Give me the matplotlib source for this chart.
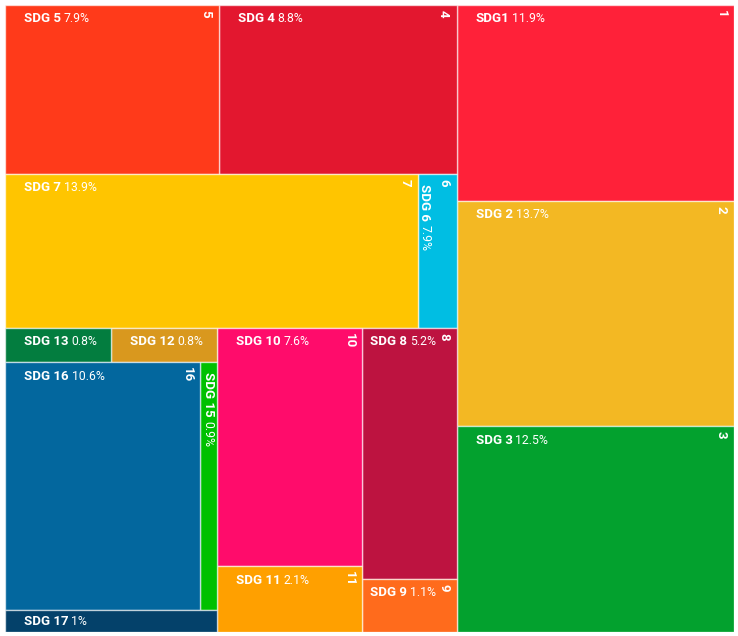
import matplotlib.pyplot as plt
from matplotlib.patches import Rectangle

plt.rcParams['font.family'] = ['Roboto', 'DejaVu Sans']

# goals shown (no SDG 14 in the data)
goals = [1, 2, 3, 4, 5, 6, 7, 8, 9, 10, 11, 12, 13, 15, 16, 17]
names = ["SDG1", "SDG 2", "SDG 3", "SDG 4", "SDG 5", "SDG 6", "SDG 7", "SDG 8",
         "SDG 9", "SDG 10", "SDG 11", "SDG 12", "SDG 13", "SDG 15", "SDG 16", "SDG 17"]
# percentages as printed in the labels
shares = [11.9, 13.7, 12.5, 8.8, 7.9, 7.9, 13.9, 5.2, 1.1, 7.6, 2.1, 0.8, 0.8, 0.9, 10.6, 1]
# cell weights (SDG 6 cell is much smaller than its label says)
sizes = [11.9, 13.7, 12.5, 8.8, 7.9, 1.3, 13.9, 5.2, 1.1, 7.6, 2.1, 0.8, 0.8, 0.9, 10.6, 1.0]
colors = ["#FF2139", "#F3B823", "#03A12E", "#E3172F", "#FF3A1A", "#00BEE3",
          "#FFC500", "#BD1340", "#FF6B1C", "#FF0C6B", "#FFA000", "#D9981E",
          "#037D3F", "#00C000", "#03679E", "#04416A"]

# how the cells are grouped; columns and rows alternate with depth
groups = [[[5, 4], [7, 6], [[[13, 12], [16, 15], 17], [10, 11], [8, 9]]], [1, 2, 3]]

W_PX, H_PX = 729, 627


def weight(node):
    if isinstance(node, int):
        return sizes[goals.index(node)]
    return sum(weight(n) for n in node)


cells = {}


def layout(node, x0, y0, x1, y1, depth):
    if isinstance(node, int):
        cells[node] = (x0, y0, x1, y1)
        return
    tot = weight(node)
    pos = x0 if depth % 2 == 0 else y0
    for child in node:
        frac = weight(child) / tot
        if depth % 2 == 0:
            step = (x1 - x0) * frac
            layout(child, pos, y0, pos + step, y1, depth + 1)
        else:
            step = (y1 - y0) * frac
            layout(child, x0, pos, x1, pos + step, depth + 1)
        pos += step


layout(groups, 0, 0, 1, 1, 0)

fig = plt.figure(figsize=(7.38, 6.36), dpi=100)
ax = fig.add_axes([5/738, 4/636, W_PX/738, H_PX/636])
ax.set_xlim(0, 1)
ax.set_ylim(1, 0)
ax.axis('off')

for i, g in enumerate(goals):
    x0, y0, x1, y1 = cells[g]
    ax.add_patch(Rectangle((x0, y0), x1 - x0, y1 - y0, facecolor=colors[i],
                           edgecolor=(1, 1, 1, 0.6), linewidth=1))
    w = (x1 - x0) * W_PX
    h = (y1 - y0) * H_PX
    pct = f"{shares[i]:g}%"
    show_num = w >= 30 and h >= 50

    if w < 60:
        # narrow cell: vertical label
        xc = x0 + (7 / W_PX if show_num else (x1 - x0) / 2)
        name = ax.annotate(names[i], (xc, y0), xytext=(0, -10), textcoords='offset pixels',
                           ha='center', va='top', rotation=-90, color='white',
                           fontsize=9.5, fontweight='bold')
        ax.annotate(pct, xy=(0.5, 0), xycoords=name, xytext=(0, -4),
                    textcoords='offset pixels', ha='center', va='top', rotation=-90,
                    color='white', fontsize=8.8)
    else:
        pad = 19 if w > 100 else 8
        vpad = min(14, h / 2)
        name = ax.annotate(names[i], (x0, y0), xytext=(pad, -vpad), textcoords='offset pixels',
                           ha='left', va='center', color='white',
                           fontsize=9.5, fontweight='bold')
        ax.annotate(pct, xy=(1, 0.5), xycoords=name, xytext=(3, 0),
                    textcoords='offset pixels', ha='left', va='center',
                    color='white', fontsize=8.8)

    if show_num:
        ax.annotate(str(g), (x1, y0), xytext=(-13, -5), textcoords='offset pixels',
                    ha='center', va='top', rotation=-90, color='white',
                    fontsize=9.5, fontweight='bold')

fig.savefig('out.png', dpi=100)
